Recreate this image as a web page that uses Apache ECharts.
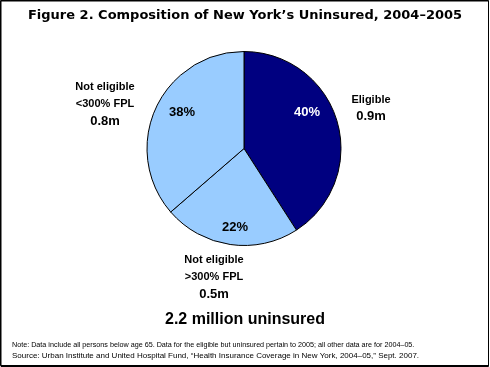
<!DOCTYPE html>
<html>
<head>
<meta charset="utf-8">
<script src="https://cdn.jsdelivr.net/npm/echarts@6/dist/echarts.min.js"></script>
<style>
html,body{margin:0;padding:0;background:#fff;}
#chart{width:490px;height:367px;}
</style>
</head>
<body>
<div id="chart"></div>
<script>
// Data
var categories = ['Eligible', 'Not eligible\n>300% FPL', 'Not eligible\n<300% FPL'];
var amountValues = [0.9, 0.5, 0.8];          // millions, slice sizes
var amountLabels = ['0.9m', '0.5m', '0.8m'];
var shareLabels = ['40%', '22%', '38%'];
var totalLabel = '2.2 million uninsured';
var titleText = 'Figure 2. Composition of New York\u2019s Uninsured, 2004\u20132005';
var noteLines = [
  'Note: Data include all persons below age 65. Data for the eligible but uninsured pertain to 2005; all other data are for 2004\u201305.',
  'Source: Urban Institute and United Hospital Fund, \u201cHealth Insurance Coverage in New York, 2004\u201305,\u201d Sept. 2007.'
];

// Styling / layout
var sliceColors = ['#000080', '#99CCFF', '#99CCFF'];
var pctColors = ['#ffffff', '#000000', '#000000'];
var pctPos = [[307, 112], [235, 227], [182, 112]];
var outerPos = [[371, 108], [214, 277], [105, 104]];
var center = [244, 148.5];
var radius = 97;

var chart = echarts.init(document.getElementById('chart'), null, {renderer: 'canvas'});

var pieData = categories.map(function (c, i) {
  return {name: c, value: amountValues[i], itemStyle: {color: sliceColors[i]}, label: {color: pctColors[i]}};
});

var option = {
  animation: false,
  backgroundColor: '#ffffff',
  title: [
    {
      text: titleText, left: 'center', top: 9, padding: 0,
      textStyle: {fontFamily: 'DejaVu Sans', fontWeight: 'bold', fontSize: 13, color: '#000'}
    },
    {
      text: totalLabel, left: 'center', top: 312, padding: 0,
      textStyle: {fontFamily: 'Liberation Sans', fontWeight: 'bold', fontSize: 16, color: '#000'}
    },
    {
      text: '{n|' + noteLines[0] + '}\n{s|' + noteLines[1] + '}', left: 12, top: 339, padding: 0,
      textStyle: {
        fontFamily: 'Liberation Sans', fontWeight: 'normal', fontSize: 8, color: '#000', lineHeight: 11.5,
        rich: {
          n: {fontFamily: 'Liberation Sans', fontWeight: 'normal', fontSize: 7.2, color: '#000', lineHeight: 11.5},
          s: {fontFamily: 'Liberation Sans', fontWeight: 'normal', fontSize: 8, color: '#000', lineHeight: 11.5}
        }
      }
    }
  ],
  graphic: [
    {type: 'rect', shape: {x: 0.5, y: 0.5, width: 488, height: 365}, style: {fill: 'none', stroke: '#000', lineWidth: 1}},
    {type: 'rect', shape: {x: 1, y: 1, width: 487.5, height: 365.5}, style: {fill: 'none', stroke: '#000', lineWidth: 1}}
  ],
  series: [
    {
      type: 'pie',
      center: center,
      radius: radius,
      startAngle: 90,
      clockwise: true,
      data: pieData,
      itemStyle: {borderColor: '#000', borderWidth: 1},
      emphasis: {disabled: true},
      label: {
        show: true,
        position: 'inside',
        formatter: function (p) { return shareLabels[p.dataIndex]; },
        fontFamily: 'Liberation Sans', fontWeight: 'bold', fontSize: 13
      },
      labelLayout: function (p) {
        return {x: pctPos[p.dataIndex][0], y: pctPos[p.dataIndex][1], align: 'center', verticalAlign: 'middle'};
      }
    },
    {
      type: 'pie',
      center: center,
      radius: radius,
      startAngle: 90,
      clockwise: true,
      silent: true,
      data: pieData.map(function (d) { return {name: d.name, value: d.value, itemStyle: {color: 'rgba(0,0,0,0)'}}; }),
      itemStyle: {borderWidth: 0},
      labelLine: {show: false},
      label: {
        show: true,
        position: 'outside',
        formatter: function (p) { return '{a|' + p.name + '}\n{b|' + amountLabels[p.dataIndex] + '}'; },
        align: 'center',
        rich: {
          a: {fontFamily: 'Liberation Sans', fontWeight: 'bold', fontSize: 11, lineHeight: 17, color: '#000', align: 'center'},
          b: {fontFamily: 'Liberation Sans', fontWeight: 'bold', fontSize: 13, lineHeight: 17, color: '#000', align: 'center'}
        }
      },
      labelLayout: function (p) {
        return {x: outerPos[p.dataIndex][0], y: outerPos[p.dataIndex][1], align: 'center', verticalAlign: 'middle'};
      }
    }
  ]
};
chart.setOption(option);
</script>
</body>
</html>
